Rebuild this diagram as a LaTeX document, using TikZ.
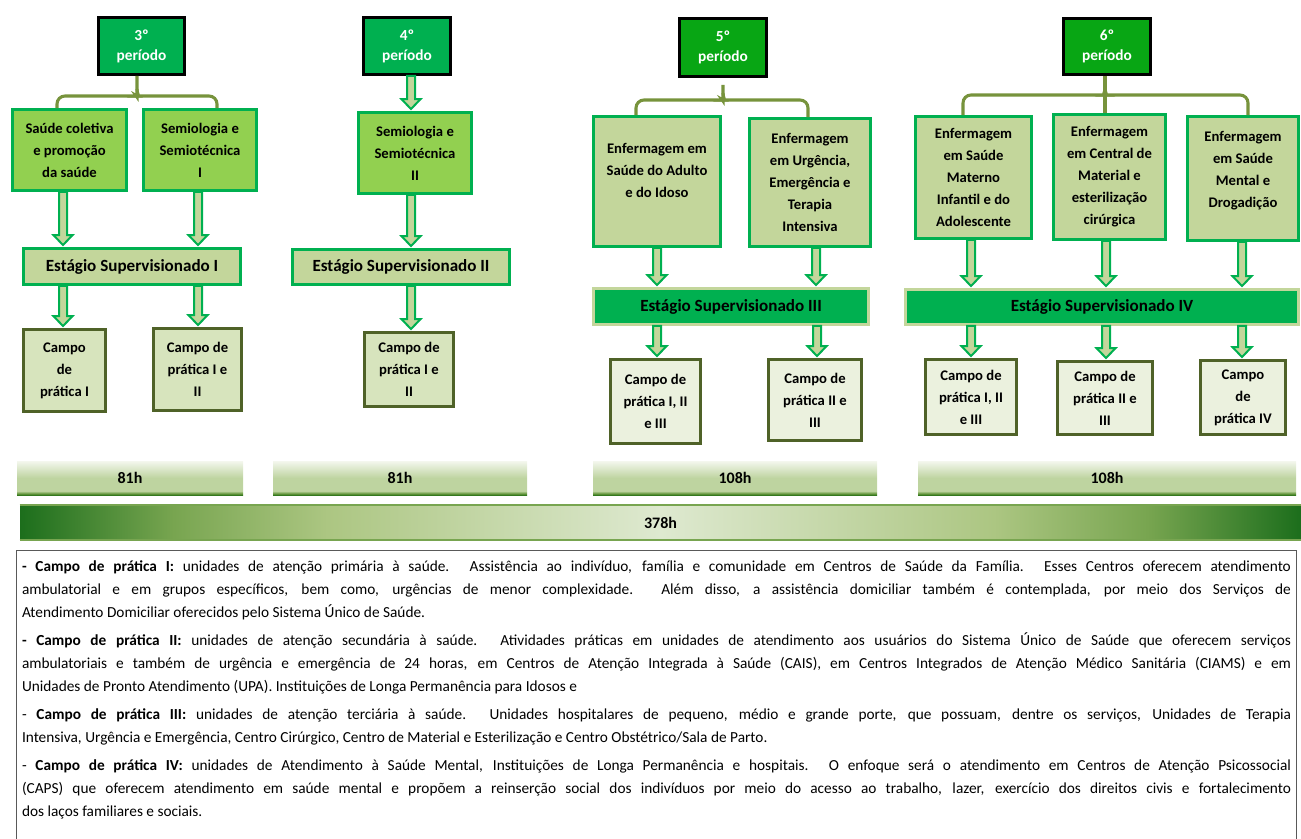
\documentclass[tikz,border=0pt]{standalone}
\usepackage{fontspec}
\setmainfont{Carlito}
\usetikzlibrary{calc}
\definecolor{grn}{RGB}{0,176,80}
\definecolor{grnb}{RGB}{8,166,20}
\definecolor{lgrn}{RGB}{146,208,80}
\definecolor{olv}{RGB}{195,214,155}
\definecolor{cmpa}{RGB}{215,228,189}
\definecolor{cmpb}{RGB}{235,241,222}
\definecolor{dolv}{RGB}{79,98,40}
\definecolor{brc}{RGB}{119,147,60}
\definecolor{hbd}{RGB}{52,120,30}
\definecolor{hbd2}{RGB}{100,150,60}
\definecolor{hbm}{RGB}{190,212,160}
\definecolor{hbl}{RGB}{244,247,238}
\definecolor{lbd}{RGB}{28,110,28}
\definecolor{lbm}{RGB}{120,165,80}
\definecolor{lbm2}{RGB}{172,198,130}
\definecolor{lbl}{RGB}{222,233,208}
\pgfdeclareverticalshading{hbarsh}{100bp}{color(0bp)=(hbd); color(25bp)=(hbd); color(27bp)=(hbd2); color(31bp)=(hbm); color(50bp)=(hbm); color(75bp)=(hbl); color(100bp)=(hbl)}
\pgfdeclarehorizontalshading{longsh}{100bp}{color(0bp)=(lbd); color(25bp)=(lbd); color(31bp)=(lbm); color(37bp)=(lbm2); color(50bp)=(lbl); color(63bp)=(lbm2); color(69bp)=(lbm); color(75bp)=(lbd); color(100bp)=(lbd)}
\newcommand\bx[7]{\node[#1, minimum width={(#5-#3-3)*0.75pt}, minimum height={(#6-#4-3)*0.75pt}] (#2) at ({(#3+#5)/2},{(#4+#6)/2}) {#7};}
\newcommand\fatarrow[3]{\path[fatar] let \p0=(#1,0), \p1=(#2.south), \p2=(#3.north) in
  (\x0-3pt,\y1) -- (\x0-3pt,\y2+9pt) -- (\x0-7.2pt,\y2+9pt) -- (\x0,\y2+1.5pt) -- (\x0+7.2pt,\y2+9pt) -- (\x0+3pt,\y2+9pt) -- (\x0+3pt,\y1) -- cycle;}
\begin{document}
\begin{tikzpicture}[x=0.75pt,y=-0.75pt,
  per/.style={draw=black, line width=2.2pt, fill=grn, text=white, font=\fontsize{11.5}{15}\selectfont\bfseries, align=center, inner sep=0pt},
  perb/.style={per, fill=grnb},
  subj/.style={draw=grn, line width=2.2pt, fill=lgrn, font=\fontsize{11}{16.5}\selectfont\bfseries, align=center, inner sep=0pt},
  subjo/.style={subj, fill=olv},
  est/.style={draw=grn, line width=2.2pt, fill=olv, font=\fontsize{12.8}{15}\selectfont\bfseries, inner sep=0pt},
  estd/.style={est, draw=olv, fill=grn},
  campo/.style={draw=dolv, line width=2.2pt, fill=cmpa, font=\fontsize{11}{16.5}\selectfont\bfseries, align=center, inner sep=0pt},
  campob/.style={campo, fill=cmpb},
  fatar/.style={draw=grn, fill=olv, line width=1.5pt, line join=miter},
  brace/.style={draw=brc, line width=2.3pt, rounded corners=6pt},
  hbar/.style={shade, shading=hbarsh, font=\fontsize{12}{14}\selectfont\bfseries, inner sep=0pt},
  lbar/.style={shade, shading=longsh, font=\fontsize{12}{14}\selectfont\bfseries, inner sep=0pt},
  note/.style={draw=black!65, line width=0.8pt, anchor=north west, text width=951.75pt, inner xsep=4.1pt, inner ysep=0pt, align=justify, font=\fontsize{11.5}{17.25}\selectfont}
]
\useasboundingbox (0,0) rectangle (1301,838);
% periods
\bx{per}{p3}{97}{16}{186}{76}{3º\\período}
\bx{per}{p4}{362}{16}{452}{76}{4º\\período}
\bx{perb}{p5}{678}{17}{768}{78}{5º\\período}
\bx{perb}{p6}{1062}{17}{1152}{76}{6º\\período}
% subjects
\bx{subj}{s31}{11}{108}{128}{192}{Saúde coletiva\\e promoção\\da saúde}
\bx{subj}{s32}{142}{108}{258}{192}{Semiologia e\\Semiotécnica\\I}
\bx{subj}{s4}{357}{111}{473}{195}{Semiologia e\\Semiotécnica\\II}
\bx{subjo,text depth=17pt}{s51}{592}{115}{722}{248}{Enfermagem em\\Saúde do Adulto\\e do Idoso}
\bx{subjo}{s52}{748}{117}{872}{248}{Enfermagem\\em Urgência,\\Emergência e\\Terapia\\Intensiva}
\bx{subjo}{s61}{914}{115}{1033}{240}{Enfermagem\\em Saúde\\Materno\\Infantil e do\\Adolescente}
\bx{subjo}{s62}{1052}{113}{1167}{241}{Enfermagem\\em Central de\\Material e\\esterilização\\cirúrgica}
\bx{subjo,text depth=14pt}{s63}{1186}{115}{1300}{242}{Enfermagem\\em Saúde\\Mental e\\Drogadição}
% estagios
\bx{est}{e1}{22}{247}{242}{286}{Estágio Supervisionado I}
\bx{est}{e2}{291}{248}{511}{286}{Estágio Supervisionado II}
\bx{estd}{e3}{592}{287}{870}{326}{Estágio Supervisionado III}
\bx{estd}{e4}{904}{288}{1300}{326}{Estágio Supervisionado IV}
% campos
\bx{campo}{c31}{22}{328}{107}{413}{Campo\\de\\prática I}
\bx{campo}{c32}{152}{327}{243}{412}{Campo de\\prática I e\\II}
\bx{campo}{c4}{363}{331}{455}{408}{Campo de\\prática I e\\II}
\bx{campob}{c51}{609}{358}{702}{445}{Campo de\\prática I, II\\e III}
\bx{campob}{c52}{767}{358}{863}{442}{Campo de\\prática II e\\III}
\bx{campob}{c61}{924}{358}{1018}{436}{Campo de\\prática I, II\\e III}
\bx{campob}{c62}{1056}{360}{1154}{436}{Campo de\\prática II e\\III}
\bx{campob}{c63}{1199}{359}{1287}{436}{Campo\\de\\prática IV}
% braces
\draw[brace] (57,0 |- s31.north) -- (57,96) -- (129,96) .. controls (134,96) and (137,94) .. (137,89) -- (137,0 |- p3.south);
\draw[brace] (217,0 |- s32.north) -- (217,96) -- (145,96) .. controls (140,96) and (137,94) .. (137,89);
\draw[brace] (636,0 |- s51.north) -- (636,100) -- (715,100) .. controls (720,100) and (723,98) .. (723,93) -- (723,86);
\draw[brace] (808,0 |- s52.north) -- (808,100) -- (731,100) .. controls (726,100) and (723,98) .. (723,93);
\draw[brace] (963,0 |- s61.north) -- (963,95) -- (1097,95) .. controls (1102,95) and (1105,93) .. (1105,88);
\draw[brace] (1248,0 |- s63.north) -- (1248,95) -- (1113,95) .. controls (1108,95) and (1105,93) .. (1105,88);
\draw[brace] (1105,0 |- p6.south) -- (1105,0 |- s62.north);
% arrows
\fatarrow{63}{s31}{e1}
\fatarrow{198}{s32}{e1}
\fatarrow{63}{e1}{c31}
\fatarrow{198}{e1}{c32}
\fatarrow{411}{p4}{s4}
\fatarrow{411}{s4}{e2}
\fatarrow{411}{e2}{c4}
\fatarrow{657}{s51}{e3}
\fatarrow{816}{s52}{e3}
\fatarrow{657}{e3}{c51}
\fatarrow{817}{e3}{c52}
\fatarrow{971}{s61}{e4}
\fatarrow{1106}{s62}{e4}
\fatarrow{1242}{s63}{e4}
\fatarrow{971}{e4}{c61}
\fatarrow{1106}{e4}{c62}
\fatarrow{1242}{e4}{c63}
% hour bars
\node[hbar, minimum width={226*0.75pt}, minimum height={34*0.75pt}] (h1) at (130,478) {81h};
\node[hbar, minimum width={254*0.75pt}, minimum height={34*0.75pt}] (h2) at (400,478) {81h};
\node[hbar, minimum width={284*0.75pt}, minimum height={34*0.75pt}] (h3) at (735,478) {108h};
\node[hbar, minimum width={378*0.75pt}, minimum height={34*0.75pt}] (h4) at (1107,478) {108h};
\node[lbar, minimum width={1281*0.75pt}, minimum height={35*0.75pt}] (lb) at (660.5,522.5) {378h};
\draw[lbm, line width=1.3pt] (lb.north west) -- (lb.north east);
\draw[lbm, line width=1.3pt] (lb.south west) -- (lb.south east);
% notes
\node[note, minimum height={300*0.75pt}, text depth=201pt] (nt) at (16,550) {%
\parindent=0pt\parskip=3.75pt\hyphenpenalty=10000\exhyphenpenalty=10000
\textbf{- Campo de prática I:} unidades de atenção primária à saúde. Assistência ao indivíduo, família e comunidade em Centros de Saúde da Família. Esses Centros oferecem atendimento\linebreak ambulatorial e em grupos específicos, bem como, urgências de menor complexidade. Além disso, a assistência domiciliar também é contemplada, por meio dos Serviços de\linebreak Atendimento Domiciliar oferecidos pelo Sistema Único de Saúde.\par
\textbf{- Campo de prática II:} unidades de atenção secundária à saúde. Atividades práticas em unidades de atendimento aos usuários do Sistema Único de Saúde que oferecem serviços\linebreak ambulatoriais e também de urgência e emergência de 24 horas, em Centros de Atenção Integrada à Saúde (CAIS), em Centros Integrados de Atenção Médico Sanitária (CIAMS) e em\linebreak Unidades de Pronto Atendimento (UPA). Instituições de Longa Permanência para Idosos e\par
- \textbf{Campo de prática III:} unidades de atenção terciária à saúde. Unidades hospitalares de pequeno, médio e grande porte, que possuam, dentre os serviços, Unidades de Terapia\linebreak Intensiva, Urgência e Emergência, Centro Cirúrgico, Centro de Material e Esterilização e Centro Obstétrico/Sala de Parto.\par
- \textbf{Campo de prática IV:} unidades de Atendimento à Saúde Mental, Instituições de Longa Permanência e hospitais. O enfoque será o atendimento em Centros de Atenção Psicossocial\linebreak (CAPS) que oferecem atendimento em saúde mental e propõem a reinserção social dos indivíduos por meio do acesso ao trabalho, lazer, exercício dos direitos civis e fortalecimento\linebreak dos laços familiares e sociais.\par};
\end{tikzpicture}
\end{document}
